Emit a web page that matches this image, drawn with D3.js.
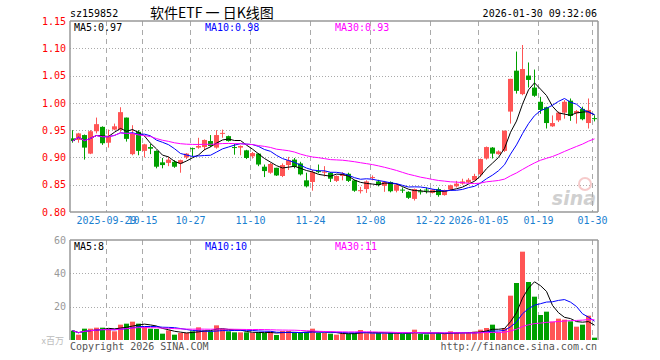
<!DOCTYPE html>
<html><head><meta charset="utf-8">
<script src="https://cdn.jsdelivr.net/npm/d3@7"></script>
<style>
html,body{margin:0;padding:0;background:#fff;}
svg text{font-family:"DejaVu Sans Mono",monospace;}
</style></head>
<body><svg id="c" width="660" height="360"></svg>
<script>
const dates = ["2025-09-19","09-22","09-23","09-24","09-25","09-26","2025-09-29","09-30","10-09","10-10","10-13","10-14","10-15","10-16","10-17","10-20","10-21","10-22","10-23","10-24","10-27","10-28","10-29","10-30","10-31","11-03","11-04","11-05","11-06","11-07","11-10","11-11","11-12","11-13","11-14","11-17","11-18","11-19","11-20","11-21","11-24","11-25","11-26","11-27","11-28","12-01","12-02","12-03","12-04","12-05","12-08","12-09","12-10","12-11","12-12","12-15","12-16","12-17","12-18","12-19","12-22","12-23","12-24","12-25","12-26","12-29","12-30","12-31","2026-01-05","01-06","01-07","01-08","01-09","01-12","01-13","01-14","01-15","01-16","01-19","01-20","01-21","01-22","01-23","01-26","01-27","01-28","01-29","01-30"];
const open  = [0.935,0.932,0.941,0.907,0.948,0.956,0.927,0.951,0.951,0.973,0.906,0.947,0.912,0.919,0.912,0.891,0.890,0.892,0.889,0.900,0.917,0.918,0.919,0.930,0.918,0.944,0.939,0.919,0.918,0.913,0.902,0.907,0.883,0.872,0.881,0.866,0.886,0.896,0.889,0.858,0.855,0.875,0.872,0.872,0.857,0.866,0.870,0.858,0.839,0.842,0.863,0.856,0.848,0.855,0.839,0.841,0.837,0.824,0.838,0.841,0.835,0.842,0.831,0.841,0.847,0.852,0.854,0.858,0.869,0.898,0.918,0.906,0.912,0.984,1.059,1.016,1.050,1.028,1.002,0.992,0.957,0.968,0.982,1.004,0.981,0.989,0.963,0.972];
const high  = [0.950,0.945,0.942,0.950,0.973,0.957,0.951,0.962,0.992,0.973,0.959,0.950,0.925,0.925,0.913,0.899,0.901,0.895,0.896,0.908,0.918,0.936,0.933,0.941,0.950,0.951,0.940,0.925,0.922,0.914,0.910,0.908,0.887,0.890,0.881,0.889,0.901,0.899,0.892,0.872,0.877,0.887,0.884,0.873,0.867,0.873,0.872,0.859,0.846,0.858,0.867,0.859,0.857,0.856,0.852,0.845,0.838,0.843,0.842,0.845,0.842,0.845,0.841,0.850,0.857,0.861,0.862,0.870,0.898,0.920,0.919,0.913,0.949,1.044,1.094,1.106,1.074,1.061,1.011,0.993,0.977,0.984,1.005,1.008,0.987,0.993,1.008,0.977];
const low   = [0.927,0.927,0.896,0.906,0.944,0.923,0.918,0.950,0.947,0.929,0.904,0.904,0.900,0.906,0.880,0.880,0.884,0.881,0.872,0.897,0.902,0.916,0.913,0.919,0.916,0.936,0.929,0.905,0.904,0.897,0.898,0.884,0.864,0.870,0.866,0.864,0.877,0.880,0.867,0.845,0.839,0.871,0.865,0.855,0.855,0.858,0.855,0.837,0.834,0.835,0.858,0.847,0.837,0.836,0.836,0.835,0.824,0.821,0.832,0.834,0.834,0.828,0.830,0.840,0.845,0.850,0.853,0.858,0.864,0.896,0.898,0.905,0.910,0.962,1.017,1.014,1.028,1.011,0.980,0.953,0.956,0.965,0.971,0.967,0.962,0.968,0.953,0.966];
const close = [0.930,0.944,0.918,0.948,0.961,0.926,0.939,0.957,0.983,0.934,0.943,0.912,0.924,0.916,0.883,0.886,0.896,0.883,0.895,0.907,0.916,0.921,0.932,0.921,0.941,0.945,0.930,0.918,0.921,0.899,0.908,0.887,0.875,0.888,0.867,0.886,0.895,0.883,0.869,0.847,0.873,0.873,0.874,0.861,0.866,0.870,0.857,0.839,0.840,0.856,0.864,0.850,0.855,0.838,0.850,0.840,0.826,0.842,0.837,0.840,0.841,0.831,0.840,0.849,0.852,0.856,0.859,0.866,0.897,0.919,0.907,0.911,0.949,1.044,1.022,1.062,1.042,1.013,0.987,0.963,0.963,0.982,1.002,0.976,0.985,0.970,0.987,0.971];
const volume = [5.6,3.2,6.8,6.8,7.4,7.4,6.6,5.2,9.2,9.8,11,9.8,7.8,6.8,6.6,3.8,5.8,3.2,4.2,4.2,5.2,7.6,5.8,5.2,8.8,6.6,5.2,4.6,4.6,4.6,4.2,4.6,4.2,5.0,3.0,5.4,5.4,4.2,4.2,4.8,6.8,4.2,4.2,3.8,3.2,4.0,3.8,4.2,6.0,4.0,4.0,4.2,4.0,4.4,4.0,3.6,4.0,6.2,3.6,3.4,4.0,4.2,3.8,5.2,4.2,4.0,4.6,5.0,6.2,7.2,9.2,4.6,7.2,26.6,34.2,53,34.8,26,15,17,11,12.8,12.2,11.2,8,9.2,14.6,1.4];
const tickDates = ["2025-09-29","10-15","10-27","11-10","11-24","12-08","12-22","2026-01-05","01-19","01-30"];
const priceTicks = [0.80,0.85,0.90,0.95,1.00,1.05,1.10,1.15];
const volTicks = [20,40,60];
const priceMALabels = ["MA5:0.97","MA10:0.98","MA30:0.93"];
const volMALabels = ["MA5:8","MA10:10","MA30:11"];
const maPeriods = [5,10,30];
const maColors = ["#000000","#0000ff","#ff00ff"];

const RED="#ff5555", GREEN="#00a000", GRID="#aaaaaa";
const svg = d3.select("#c");
const L=70, R=598, PT=21, PB=212, VT=240, VB=340;

const x = d3.scaleBand().domain(dates).range([L,R]).paddingInner(0).paddingOuter(0);
const bw = x.bandwidth();
const yP = d3.scaleLinear().domain([0.80,1.15]).range([PB,PT]);
const yV = d3.scaleLinear().domain([0,60]).range([VB,VT]);

const defs = svg.append("defs");
defs.append("clipPath").attr("id","cp").append("rect").attr("x",L+1).attr("y",PT).attr("width",R-L-1).attr("height",PB-PT);
defs.append("clipPath").attr("id","cv").append("rect").attr("x",L+1).attr("y",VT).attr("width",R-L-1).attr("height",VB-VT);

// horizontal dotted grids
svg.append("g").selectAll("line").data(priceTicks.filter(d=>d>0.8&&d<1.15)).join("line")
  .attr("x1",L).attr("x2",R).attr("y1",d=>Math.round(yP(d))+0.5).attr("y2",d=>Math.round(yP(d))+0.5)
  .attr("stroke",GRID).attr("stroke-dasharray","1,2");
svg.append("g").selectAll("line").data(volTicks.filter(d=>d<60)).join("line")
  .attr("x1",L).attr("x2",R).attr("y1",d=>Math.round(yV(d))+0.5).attr("y2",d=>Math.round(yV(d))+0.5)
  .attr("stroke",GRID).attr("stroke-dasharray","1,2");
// vertical dashed grids
const vx = d=>Math.round(x(d))+0.5;
svg.append("g").selectAll("line").data(tickDates).join("line")
  .attr("x1",vx).attr("x2",vx).attr("y1",PT).attr("y2",PB)
  .attr("stroke",GRID).attr("stroke-dasharray","5,4");
svg.append("g").selectAll("line").data(tickDates).join("line")
  .attr("x1",vx).attr("x2",vx).attr("y1",VT).attr("y2",VB)
  .attr("stroke",GRID).attr("stroke-dasharray","5,4");

// watermark
const wm = svg.append("g").attr("opacity",0.55);
wm.append("circle").attr("cx",585).attr("cy",184).attr("r",6).attr("fill","none").attr("stroke","#f0a0a0").attr("stroke-width",2);
wm.append("text").attr("x",596).attr("y",205).attr("text-anchor","end").attr("font-size",19).attr("font-style","italic").attr("font-weight","bold")
  .style("font-family","DejaVu Sans, sans-serif").attr("fill","#aaaaaa").text("sina");

// candles
const data = dates.map((d,i)=>({d,o:open[i],h:high[i],l:low[i],c:close[i],v:volume[i]}));
const cg = svg.append("g").attr("clip-path","url(#cp)");
const col = d=> d.c>=d.o ? RED : GREEN;
cg.selectAll("line").data(data).join("line")
  .attr("x1",d=>x(d.d)+2.5).attr("x2",d=>x(d.d)+2.5)
  .attr("y1",d=>yP(d.h)).attr("y2",d=>yP(d.l)).attr("stroke",col).attr("stroke-width",1);
cg.selectAll("rect").data(data).join("rect")
  .attr("x",d=>x(d.d)).attr("width",bw-1)
  .attr("y",d=>yP(Math.max(d.o,d.c))).attr("height",d=>Math.max(1,Math.abs(yP(d.o)-yP(d.c))))
  .attr("fill",col);

// volume bars
const vg = svg.append("g").attr("clip-path","url(#cv)");
vg.selectAll("rect").data(data).join("rect")
  .attr("x",d=>x(d.d)).attr("width",bw-1)
  .attr("y",d=>yV(d.v)).attr("height",d=>VB-yV(d.v)).attr("fill",col);

// moving averages
const ma = (arr,n)=>arr.map((_,i)=>d3.mean(arr.slice(Math.max(0,i-n+1),i+1)));
maPeriods.forEach((n,k)=>{
  const pm = ma(close,n), vm = ma(volume,n);
  cg.append("path").datum(pm).attr("fill","none").attr("stroke",maColors[k]).attr("stroke-width",1)
    .attr("d",d3.line().x((v,i)=>x(dates[i])+2.5).y(v=>yP(v)));
  vg.append("path").datum(vm).attr("fill","none").attr("stroke",maColors[k]).attr("stroke-width",1)
    .attr("d",d3.line().x((v,i)=>x(dates[i])+2.5).y(v=>yV(v)));
});

// frames
const frame = (t,b,bottom)=>{
  svg.append("line").attr("x1",L).attr("x2",R).attr("y1",t).attr("y2",t).attr("stroke","#999").attr("stroke-width",1.5);
  svg.append("line").attr("x1",L).attr("x2",L).attr("y1",t).attr("y2",b).attr("stroke","#999").attr("stroke-width",1.5);
  svg.append("line").attr("x1",R).attr("x2",R).attr("y1",t).attr("y2",b).attr("stroke","#999").attr("stroke-width",1.5);
  if(bottom) svg.append("line").attr("x1",L).attr("x2",R).attr("y1",b).attr("y2",b).attr("stroke","#999").attr("stroke-width",1.5);
};
frame(PT,PB,true);
frame(VT,VB,false);

// axes
const pAx = svg.append("g").attr("transform",`translate(${L-3},0)`)
  .call(d3.axisLeft(yP).tickValues(priceTicks).tickSize(0).tickPadding(1).tickFormat(d=>d.toFixed(2)));
pAx.select(".domain").remove();
pAx.selectAll("text").attr("fill","#ff0000").attr("font-size",10).style("font-family","DejaVu Sans Mono");
const vAx = svg.append("g").attr("transform",`translate(${L-3},0)`)
  .call(d3.axisLeft(yV).tickValues(volTicks).tickSize(0).tickPadding(1).tickFormat(d3.format("d")));
vAx.select(".domain").remove();
vAx.selectAll("text").attr("fill","#999").attr("font-size",10).style("font-family","DejaVu Sans Mono");
const xAx = svg.append("g").attr("transform",`translate(0,${PB})`)
  .call(d3.axisBottom(x).tickValues(tickDates).tickSize(0).tickPadding(5));
xAx.select(".domain").remove();
xAx.selectAll(".tick").attr("transform",d=>`translate(${vx(d)},0)`);
xAx.selectAll("text").attr("fill","#1a80d0").attr("font-size",10).style("font-family","DejaVu Sans Mono");

// header
svg.append("text").attr("x",70).attr("y",17).attr("font-size",10).attr("fill","#000").text("sz159852");
svg.append("text").attr("x",150).attr("y",18).attr("font-size",14).attr("fill","#000")
  .style("font-family","'Noto Sans CJK SC', sans-serif").text("软件ETF 一 日K线图");
svg.append("text").attr("x",597).attr("y",17).attr("text-anchor","end").attr("font-size",10).attr("fill","#000").text("2026-01-30 09:32:06");

const labX = [74,205,335];
priceMALabels.forEach((t,k)=>svg.append("text").attr("x",labX[k]).attr("y",31).attr("font-size",10).attr("fill",maColors[k]).text(t));
volMALabels.forEach((t,k)=>svg.append("text").attr("x",labX[k]).attr("y",250).attr("font-size",10).attr("fill",maColors[k]).text(t));

// footer
svg.append("text").attr("x",64).attr("y",344).attr("text-anchor","end").attr("font-size",9).attr("fill","#bbb")
  .style("font-family","'Noto Sans CJK SC', sans-serif").text("x百万");
svg.append("text").attr("x",70).attr("y",350).attr("font-size",10).attr("fill","#555").text("Copyright 2026 SINA.COM");
svg.append("text").attr("x",597).attr("y",350).attr("text-anchor","end").attr("font-size",10).attr("fill","#555").text("http://finance.sina.com.cn");
</script></body></html>
